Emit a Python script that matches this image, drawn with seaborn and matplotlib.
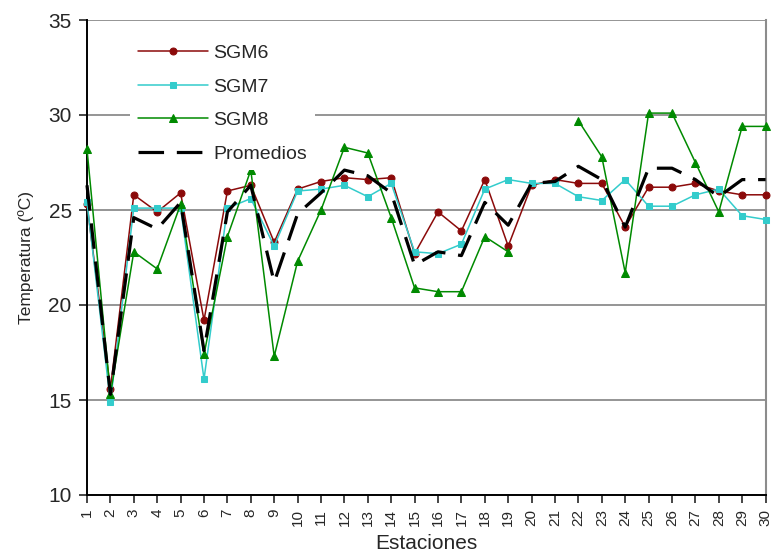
import numpy as np
import pandas as pd
import matplotlib
matplotlib.use("Agg")
import matplotlib.pyplot as plt
import seaborn as sns

# ---- data ----
estaciones = list(range(1, 31))
sgm6 = [25.3, 15.6, 25.8, 24.9, 25.9, 19.2, 26.0, 26.3, 23.3, 26.1,
        26.5, 26.7, 26.6, 26.7, 22.7, 24.9, 23.9, 26.6, 23.1, 26.3,
        26.6, 26.4, 26.4, 24.1, 26.2, 26.2, 26.4, 26.0, 25.8, 25.8]
sgm7 = [25.4, 14.9, 25.1, 25.1, 25.1, 16.1, 25.1, 25.6, 23.1, 26.0,
        26.1, 26.3, 25.7, 26.4, 22.8, 22.7, 23.2, 26.1, 26.6, 26.4,
        26.4, 25.7, 25.5, 26.6, 25.2, 25.2, 25.8, 26.1, 24.7, 24.5]
sgm8 = [28.2, 15.3, 22.8, 21.9, 25.3, 17.4, 23.6, 27.1, 17.3, 22.3,
        25.0, 28.3, 28.0, 24.6, 20.9, 20.7, 20.7, 23.6, 22.8, np.nan,
        np.nan, 29.7, 27.8, 21.7, 30.1, 30.1, 27.5, 24.9, 29.4, 29.4]
promedios = [26.3, 15.3, 24.6, 24.0, 25.4, 17.6, 24.9, 26.3, 21.2, 24.8,
             25.9, 27.1, 26.8, 25.9, 22.1, 22.8, 22.6, 25.4, 24.2, 26.4,
             26.5, 27.3, 26.6, 24.1, 27.2, 27.2, 26.6, 25.7, 26.6, 26.6]

df = pd.DataFrame({"Estacion": estaciones, "SGM6": sgm6, "SGM7": sgm7,
                   "SGM8": sgm8, "Promedios": promedios})
# segment id for the gap in SGM8
df["seg8"] = np.cumsum(df["SGM8"].isna().astype(int))

sns.set_style("white")
plt.rcParams["font.family"] = ["Liberation Sans", "DejaVu Sans"]

fig = plt.figure(figsize=(7.74, 5.6), dpi=100)
ax = fig.add_axes([87/774, 65/560, 678.6/774, 475/560])

c6, c7, c8 = "#8b0a0a", "#33cccc", "#008a00"

sns.lineplot(data=df, x="Estacion", y="SGM6", ax=ax, color=c6, lw=1.1,
             marker="o", markersize=5, markeredgecolor=c6, label="SGM6",
             zorder=3, clip_on=False)
sns.lineplot(data=df, x="Estacion", y="SGM7", ax=ax, color=c7, lw=1.1,
             marker="s", markersize=4.5, markeredgecolor=c7, label="SGM7",
             zorder=3, clip_on=False)
first = True
for seg, sub in df.dropna(subset=["SGM8"]).groupby("seg8"):
    sns.lineplot(data=sub, x="Estacion", y="SGM8", ax=ax, color=c8, lw=1.1,
                 marker="^", markersize=5.5, markeredgecolor=c8,
                 label="SGM8" if first else "_nolegend_", zorder=3, clip_on=False)
    first = False
sns.lineplot(data=df, x="Estacion", y="Promedios", ax=ax, color="black", lw=2.3,
             linestyle=(0, (8.0, 4.0)), label="Promedios", zorder=4, clip_on=False)

ax.set_xlim(1, 30)
ax.set_ylim(10, 35)
ax.set_xticks(estaciones)
ax.set_xticklabels([str(e) for e in estaciones], rotation=90, fontsize=11)
ax.set_yticks([10, 15, 20, 25, 30, 35])
ax.tick_params(axis="y", labelsize=15, length=6, width=1.2, direction="out", pad=5, left=True)
ax.tick_params(axis="x", length=6, width=1.2, direction="out", pad=4, bottom=True)
ax.yaxis.grid(True, color="#8c8c8c", lw=1.3)
ax.xaxis.grid(False)
ax.set_axisbelow(True)

for s in ["left", "bottom"]:
    ax.spines[s].set_color("black")
    ax.spines[s].set_linewidth(1.4)
ax.spines["right"].set_color("#8c8c8c")
ax.spines["right"].set_linewidth(1.5)
ax.spines["top"].set_visible(False)

ax.set_xlabel("Estaciones", fontsize=15, labelpad=6)
ax.set_ylabel("Temperatura (ºC)", fontsize=12.5, labelpad=10)

leg = ax.legend(loc="upper left", bbox_to_anchor=(0.063, 0.965), fontsize=14,
                frameon=True, facecolor="white", edgecolor="none", framealpha=1,
                handlelength=3.6, handletextpad=0.3, labelspacing=0.82,
                borderpad=0.4, borderaxespad=0, fancybox=False)
leg.set_zorder(5)

fig.savefig("out.png", dpi=100)
